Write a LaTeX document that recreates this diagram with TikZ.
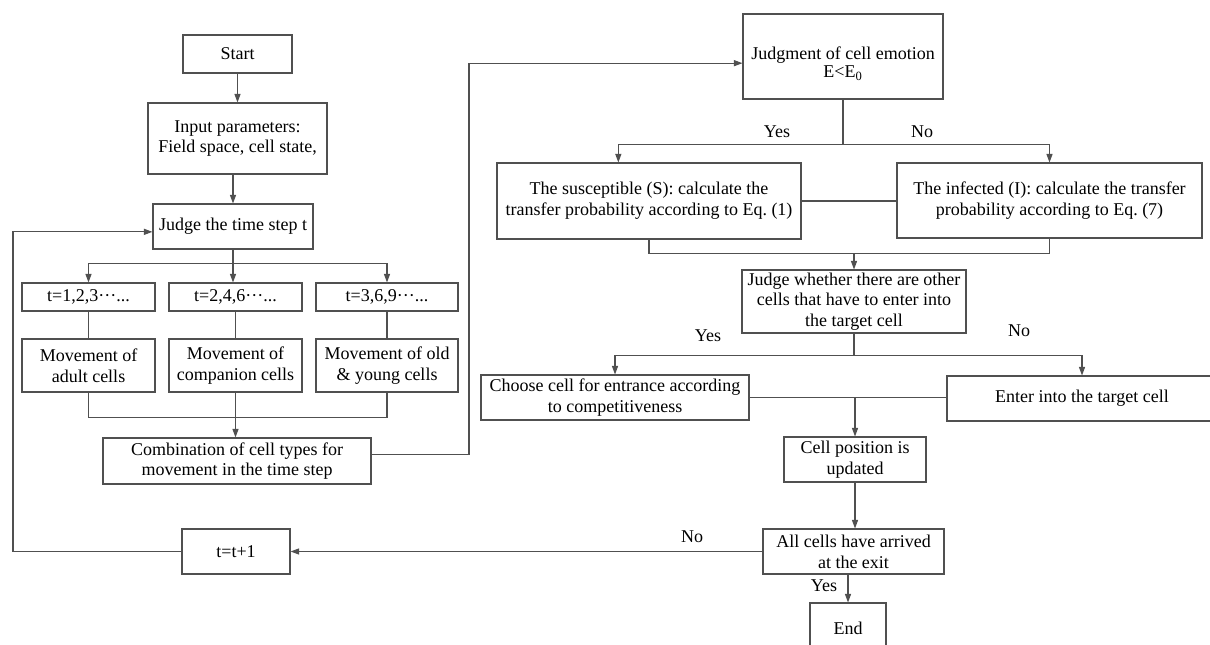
\documentclass[tikz,border=0pt]{standalone}
\usepackage{fontspec}
\setmainfont{Liberation Serif}
\frenchspacing
\usetikzlibrary{arrows.meta,positioning}
\definecolor{linegray}{RGB}{80,80,80}

\begin{document}
\begin{tikzpicture}[x=0.75pt,y=-0.75pt,
    blk/.style 2 args={draw=linegray,line width=0.8pt,inner sep=1pt,align=center,
        minimum width=#1*0.75pt,minimum height=#2*0.75pt,font=\fontsize{13.5}{15.5}\selectfont},
    lbl/.style={font=\fontsize{13.5}{15.5}\selectfont},
    conn/.style={draw=linegray,line width=0.8pt},
    arr/.style={conn,-{Triangle[length=6.5pt,width=4.6pt]}}]
    \useasboundingbox (0,0) rectangle (1210,644);

    % Left column
    \node[blk={109}{38}] (start) at (237.5,54) {Start};
    \node[blk={179}{71}] (input) at (237.5,138.5) {Input parameters:\\Field space, cell state,};
    \node[blk={160}{45}] (judge) at (233,226.5) {Judge the time step t};
    \node[blk={133}{28}] (t1) at (88.5,297) {t=1,2,3···...};
    \node[blk={133}{28}] (t2) at (235.5,297) {t=2,4,6···...};
    \node[blk={142}{28}] (t3) at (387,297) {t=3,6,9···...};
    \node[blk={133}{53}] (m1) at (88.5,365.5) {Movement of\\adult cells};
    \node[blk={133}{53}] (m2) at (235.5,365.5) {Movement of\\companion cells};
    \node[blk={142}{53}] (m3) at (387,365.5) {Movement of old\\\& young cells};
    \node[blk={268}{46}] (combo) at (237,461) {Combination of cell types for\\movement in the time step};
    \node[blk={108}{45}] (tnext) at (236,551.5) {t=t+1};

    % Right column
    \node[blk={200}{85}] (emo) at (843,56.5) {};
    \node[lbl,align=center] (emotext) at (843,64) {Judgment of cell emotion\\[-2pt]E<E\textsubscript{0}};
    \node[blk={304}{76}] (sus) at (649,201) {The susceptible (S): calculate the\\transfer probability according to Eq. (1)};
    \node[blk={305}{75}] (inf) at (1049.5,200.5) {The infected (I): calculate the transfer\\probability according to Eq. (7)};
    \node[blk={224}{63}] (other) at (854,301.5) {Judge whether there are other\\cells that have to enter into\\the target cell};
    \node[blk={268}{45}] (choose) at (615,397.5) {Choose cell for entrance according\\to competitiveness};
    \node[blk={270}{45}] (enter) at (1082,398.5) {Enter into the target cell};
    \node[blk={142}{45}] (update) at (855,459.5) {Cell position is\\updated};
    \node[blk={181}{45}] (exit) at (853.5,551.5) {All cells have arrived\\at the exit};
    \node[blk={76}{50}] (end) at (848,628) {End};

    % Labels
    \node[lbl] (yes1) at (777,132) {Yes};
    \node[lbl] (no1) at (922,132) {No};
    \node[lbl] (yes2) at (708,336) {Yes};
    \node[lbl] (no2) at (1019,331) {No};
    \node[lbl] (no3) at (692,537) {No};
    \node[lbl] (yes3) at (824,586) {Yes};

    \coordinate (loopL) at (13,400);
    \coordinate (loopR) at (469,300);

    % Left connectors
    \draw[arr] (start) -- (input);
    \draw[arr] (input.south -| judge.north) -- (judge.north);
    \draw[conn] (judge.south) -- ++(0,14) coordinate (split);
    \draw[arr] (split) -| (t1.north);
    \draw[arr] (split) -| (t3.north);
    \draw[arr] (split) -- (split |- t2.north);
    \foreach \i in {1,2,3} {
        \draw[conn] (t\i) -- (m\i);
    }
    \draw[conn] (m1.south) -- ++(0,25) -| (m3.south);
    \draw[arr] (m2.south) -- (m2.south |- combo.north);
    \draw[arr] ([yshift=5pt]combo.east) -| (loopR) |- ([yshift=-5pt]emo.west);
    \draw[arr] (tnext.west) -| (loopL) |- ([yshift=-4pt]judge.west);

    % Right connectors
    \draw[conn] (emo.south) -- ++(0,45) coordinate (esplit);
    \draw[arr] (esplit) -| ([xshift=-23pt]sus.north);
    \draw[arr] (esplit) -| (inf.north);
    \draw[conn] (sus.east) -- (sus.east -| inf.west);
    \draw[conn] (sus.south) -- ++(0,14) coordinate (smerge) -| (inf.south);
    \draw[arr] (smerge -| other.north) -- (other.north);
    \draw[conn] (other.south) -- ++(0,22) coordinate (osplit);
    \draw[arr] (osplit) -| (choose.north);
    \draw[arr] (osplit) -| (enter.north);
    \draw[conn] (choose.east) -- (choose.east -| enter.west);
    \draw[arr] (choose.east -| update.north) -- (update.north);
    \draw[arr] (update.south) -- (update.south |- exit.north);
    \draw[arr] (exit.west) -- (tnext.east);
    \draw[arr] (exit.south -| end.north) -- (end.north);
\end{tikzpicture}
\end{document}
